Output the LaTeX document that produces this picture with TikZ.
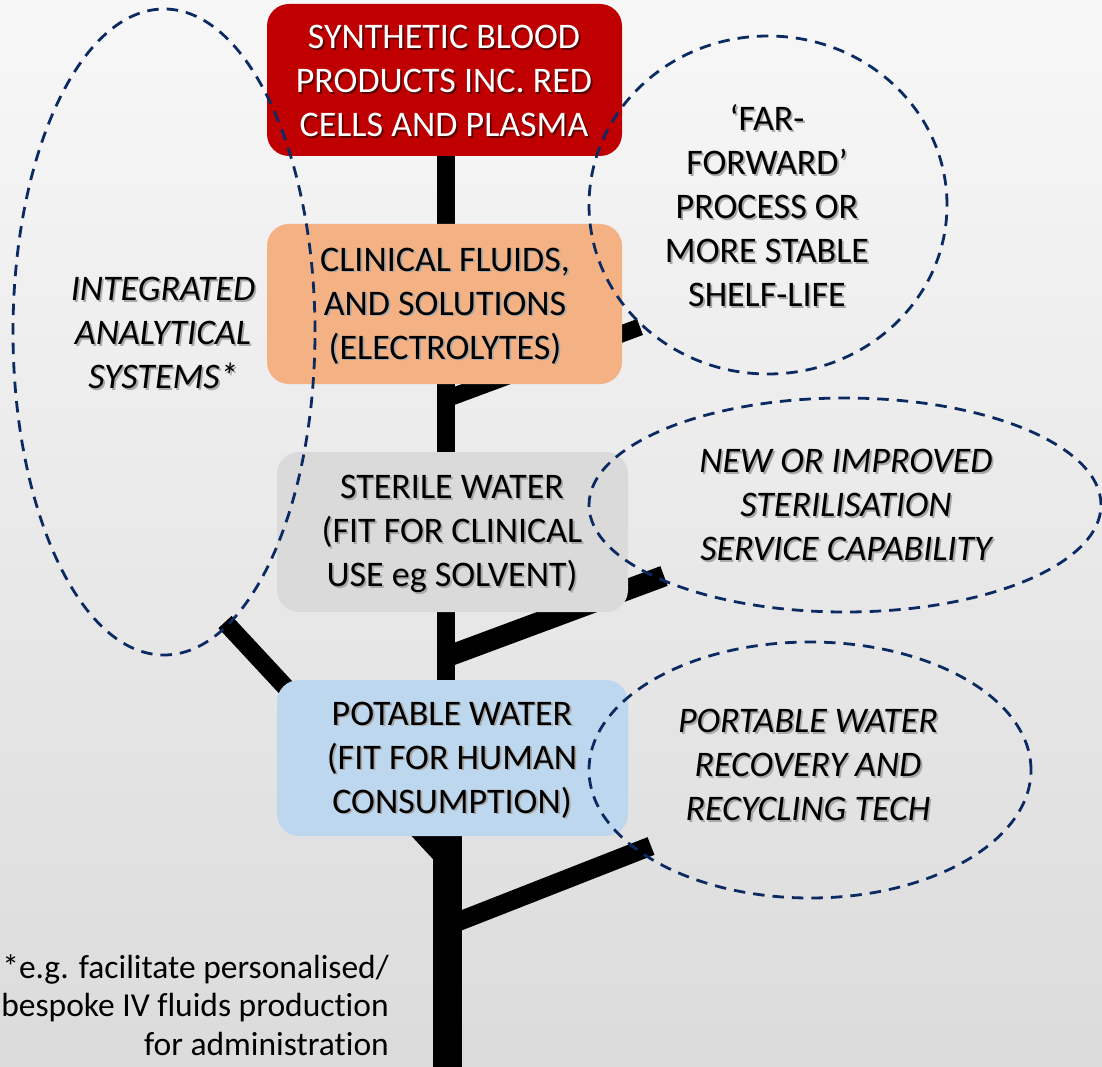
\documentclass[tikz,border=0pt]{standalone}
\usepackage{fontspec}
\setmainfont{Carlito}[Ligatures=NoCommon]
\usetikzlibrary{shapes.geometric}
\definecolor{boxred}{HTML}{C00000}
\definecolor{boxorange}{HTML}{F4B183}
\definecolor{boxgray}{HTML}{DADADA}
\definecolor{boxblue}{HTML}{BDD7EE}
\definecolor{navy}{HTML}{0C2A62}
\definecolor{shadowc}{HTML}{A8A8A8}
\definecolor{redshadow}{HTML}{5A0000}
\newcommand\shadowlabel[5]{% name, x,y, style, shadow colour, text
  \node[#3, text=#4] at ([xshift=1.8pt,yshift=-1.8pt]#2) {#5};
  \node[#3] (#1) at (#2) {#5};}
\tikzset{
  boxstyle/.style={rectangle, rounded corners=22pt, draw=none, inner sep=0pt},
  boxtext/.style={align=center, inner sep=0pt, font=\fontsize{36}{44}\selectfont},
  ovaltext/.style={align=center, inner sep=0pt, font=\fontsize{36}{44}\selectfont\itshape},
  oval/.style={ellipse, draw=navy, line width=2.8pt, dash pattern=on 11.5pt off 8pt, inner sep=0pt, fill=none},
  limb/.style={draw=black, line width=18pt, line cap=butt},
}
\begin{document}
\begin{tikzpicture}[x=1pt,y=-1pt]
\useasboundingbox (0,0) rectangle (1102,1067);
\shade[top color=white!97!black, bottom color=black!14] (0,0) rectangle (1102,1067);

% tree
\coordinate (t0) at (446,150);
\coordinate (t1) at (446,840);
\coordinate (b0) at (447.5,836);
\coordinate (b1) at (447.5,1068);
\coordinate (br1a) at (446,399);
\coordinate (br1b) at (640,327);
\coordinate (br2a) at (446,657);
\coordinate (br2b) at (664,576);
\coordinate (brLa) at (447,861);
\coordinate (brLb) at (225,622);
\coordinate (br3a) at (447,926);
\coordinate (br3b) at (651,846);
\draw[limb] (t0) -- (t1);
\draw[limb, line width=29pt] (b0) -- (b1);
\draw[limb, line width=17pt] (br1a) -- (br1b);
\draw[limb, line width=21pt] (br2a) -- (br2b);
\draw[limb, line width=18pt] (brLa) -- (brLb);
\draw[limb, line width=19pt] (br3a) -- (br3b);

% boxes
\node[boxstyle, fill=boxred, minimum width=355pt, minimum height=152pt] (red) at (444.5,80) {};
\node[boxstyle, fill=boxorange, minimum width=355pt, minimum height=160pt] (orange) at (444.5,304) {};
\node[boxstyle, fill=boxgray, minimum width=351pt, minimum height=160pt] (gray) at (452.5,532) {};
\node[boxstyle, fill=boxblue, minimum width=351pt, minimum height=156pt] (blue) at (452.5,758) {};

\shadowlabel{redtxt}{444,81}{boxtext, text=white}{redshadow}{SYNTHETIC BLOOD\\PRODUCTS INC. RED\\CELLS AND PLASMA}
\shadowlabel{orangetxt}{445,306}{boxtext}{shadowc}{CLINICAL FLUIDS,\\AND SOLUTIONS\\(ELECTROLYTES)}
\shadowlabel{graytxt}{452,534}{boxtext}{shadowc}{STERILE WATER\\(FIT FOR CLINICAL\\USE eg SOLVENT)}
\shadowlabel{bluetxt}{452,760}{boxtext}{shadowc}{POTABLE WATER\\(FIT FOR HUMAN\\CONSUMPTION)}

% oval texts
\shadowlabel{lefttxt}{163,333}{ovaltext}{shadowc}{INTEGRATED\\ANALYTICAL\\SYSTEMS*}
\shadowlabel{urtxt}{767,206}{boxtext}{shadowc}{‘FAR-\\FORWARD’\\PROCESS OR\\MORE STABLE\\SHELF-LIFE}
\shadowlabel{mrtxt}{846,505}{ovaltext}{shadowc}{NEW OR IMPROVED\\STERILISATION\\SERVICE CAPABILITY}
\shadowlabel{lrtxt}{808,765}{ovaltext}{shadowc}{PORTABLE WATER\\RECOVERY AND\\RECYCLING TECH}

% ovals
\node[oval, minimum width=302pt, minimum height=646pt] (eleft) at (164,332) {};
\node[oval, minimum width=358pt, minimum height=338pt] (eur) at (768,205) {};
\node[oval, minimum width=512pt, minimum height=214pt] (emr) at (845,505) {};
\node[oval, minimum width=442pt, minimum height=256pt] (elr) at (810,770) {};

% footnote
\node[align=right, inner sep=0pt, anchor=east, font=\fontsize{33.5}{38.5}\selectfont] (foot) at (389,1005) {*e.g. facilitate personalised/\\bespoke IV fluids production\\for administration};
\end{tikzpicture}
\end{document}
